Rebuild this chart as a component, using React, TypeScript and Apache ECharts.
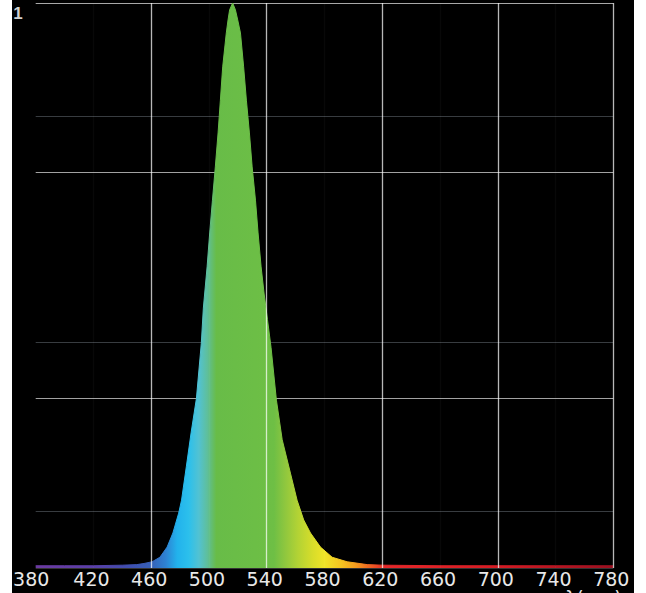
import React, { useEffect, useRef } from "react";
import * as echarts from "echarts";

// Wavelength (nm) and relative intensity
const wavelengthNm = [
  380, 400, 420, 440, 450, 455, 460.6, 466, 471, 475, 479, 481, 484.3, 487.6,
  491.3, 494.7, 496.1, 498.7, 500.5, 502.4, 504.4, 506.3, 507.9, 509.5, 512,
  513.2, 514.3, 516.4, 518.3, 519.9, 521.8, 524, 525.9, 528, 529.9, 532.2, 534,
  536.1, 538.2, 540.5, 543, 546.7, 550.7, 556.4, 561, 565.6, 570.3, 577.2, 585.3,
  595.7, 609.6, 620, 660, 700, 740, 780,
];
const relIntensity = [
  0.004, 0.004, 0.004, 0.005, 0.006, 0.008, 0.011, 0.019, 0.037, 0.062, 0.097,
  0.12, 0.179, 0.239, 0.3, 0.398, 0.46, 0.533, 0.593, 0.651, 0.71, 0.77,
  0.828, 0.887, 0.947, 0.97, 0.988, 1.0, 0.988, 0.97, 0.947, 0.887, 0.828,
  0.77, 0.71, 0.651, 0.593, 0.533, 0.485, 0.44, 0.39, 0.297, 0.227, 0.168, 0.12,
  0.085, 0.062, 0.037, 0.019, 0.011, 0.006, 0.005, 0.004, 0.004, 0.004, 0.004,
];

const xMin = 380;
const xMax = 780;
const xStep = 40;
const yTopLabel = "1";
const axisTitle = "λ(nm)";

// Spectral colour stops (nm, colour) for the fill
const spectrumNm = [380, 420, 445, 460, 470, 478, 486, 493, 499, 505, 545, 552, 562, 572, 580, 592, 602, 612, 622, 700, 780];
const spectrumColors = [
  "#6b3aa0", "#5a3fa8", "#3f4fb0", "#3560b8", "#2e82d2", "#22b2ec", "#2cc0ec",
  "#52c2d2", "#5fbf9a", "#68bc48", "#6ebf45", "#8cc63f", "#b4d334", "#d8dd2a",
  "#efe428", "#f4c321", "#f49a1e", "#ee5e22", "#e6282a", "#d41c24", "#9a1020",
];

const B = "rgba(255,255,255,0.72)";
const F = "rgba(255,255,255,0.03)";
const T = "rgba(0,0,0,0)";
const xLineColors = [T, F, B, F, B, F, B, F, B, F, B];
const yB = "#a2a2a2";
const yD = "#383c40";
const yLineColors = ["#333", yD, T, yB, yD, T, T, yB, yD, T, "#a8a8a8"];

const labelFont = "DejaVu Sans";
const labelSize = 19;
const labelColor = "#e8e8e8";

export default function App() {
  const ref = useRef<HTMLDivElement>(null);

  useEffect(() => {
    document.body.style.margin = "0";
    const chart = echarts.init(ref.current!, null, { renderer: "svg" });
    const stops = spectrumNm.map((nm, i) => ({
      offset: (nm - xMin) / (xMax - xMin),
      color: spectrumColors[i],
    }));
    const fill = new echarts.graphic.LinearGradient(0, 0, 1, 0, stops);
    const edge = new echarts.graphic.LinearGradient(0, 0, 1, 0, stops);
    const data = wavelengthNm.map((w, i) => [w, relIntensity[i]]);

    chart.setOption({
      animation: false,
      backgroundColor: "transparent",
      grid: {
        left: 23.7,
        right: 20.7,
        top: 3,
        bottom: 25,
        containLabel: false,
        outerBoundsMode: "none",
      },
      xAxis: {
        type: "value",
        min: xMin,
        max: xMax,
        interval: xStep,
        z: 5,
        axisLine: { show: false },
        axisTick: { show: false },
        axisLabel: {
          color: labelColor,
          fontFamily: labelFont,
          fontSize: labelSize,
          margin: 1,
          padding: [0, 4, 0, 0],
          formatter: (v: number) => (v === xMin ? `{first|${v}}` : `${v}`),
          rich: {
            first: {
              color: labelColor,
              fontFamily: labelFont,
              fontSize: labelSize,
              padding: [0, 5, 0, 0],
            },
          },
        },
        splitLine: { show: true, lineStyle: { width: 1.3, color: xLineColors } },
      },
      yAxis: {
        type: "value",
        min: 0,
        max: 1,
        interval: 0.1,
        axisLine: { show: false },
        axisTick: { show: false },
        axisLabel: {
          formatter: (v: number) => (Math.abs(v - 1) < 1e-9 ? yTopLabel : ""),
          color: "#d0d0d0",
          fontWeight: "bold",
          fontSize: 17,
          fontFamily: "Liberation Sans",
          margin: 13,
          verticalAlign: "top",
          padding: [2, 0, 0, 0],
        },
        splitLine: { show: true, lineStyle: { width: 1, color: yLineColors } },
      },
      series: [
        {
          type: "line",
          data,
          showSymbol: false,
          smooth: false,
          lineStyle: { width: 1, color: edge },
          areaStyle: { color: fill, opacity: 1 },
        },
      ],
      graphic: [
        {
          type: "text",
          left: 553,
          top: 588,
          style: {
            text: axisTitle,
            fill: labelColor,
            font: `${labelSize}px "${labelFont}"`,
          },
        },
      ],
    });
    return () => chart.dispose();
  }, []);

  return (
    <div style={{ position: "fixed", left: 0, top: 0, width: 646, height: 593, background: "#fff" }}>
      <div style={{ position: "absolute", left: 12, top: 0, width: 622, height: 593, background: "#000" }}>
        <div ref={ref} style={{ width: 622, height: 593 }} />
      </div>
    </div>
  );
}
